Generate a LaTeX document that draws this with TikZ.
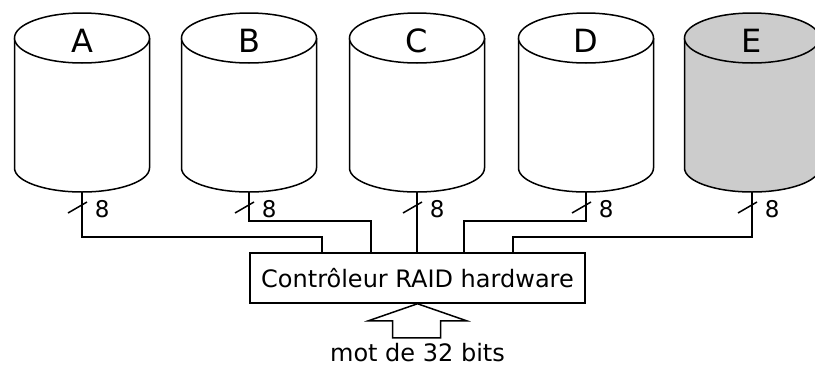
\documentclass[tikz,border=0pt]{standalone}
\usepackage{fontspec}
\setmainfont{DejaVu Sans}
\definecolor{diskgray}{RGB}{204,204,204}

\begin{document}
\begin{tikzpicture}[x=1pt,y=-1pt,line width=1.5pt,font=\fontsize{24}{28}\selectfont]
\useasboundingbox (0,0) rectangle (815,367);
% disks
\foreach \n/\cx/\col in {A/82/white,B/249/white,C/417/white,D/586/white,E/752/diskgray}{
  \filldraw[fill=\col] (\cx-67.5,38) -- (\cx-67.5,168) arc[start angle=180,end angle=0,x radius=67.5,y radius=24] -- (\cx+67.5,38);
  \filldraw[fill=\col] (\cx,38) ellipse[x radius=67.5,y radius=25];
  \node[font=\fontsize{32}{36}\selectfont] (lab\n) at (\cx,41) {\n};
  \coordinate (bot\n) at (\cx,192);
  \draw (\cx-14,213) -- (\cx+5,202);
  \node[anchor=west,inner sep=0pt,font=\fontsize{23}{26}\selectfont] (w\n) at (\cx+12,209.5) {8};
}
\node[draw,minimum width=335pt,minimum height=50pt,inner sep=0pt] (ctrl) at (417.5,278) {Contrôleur RAID hardware};
% buses
\foreach \n/\d/\s in {A/45/-95.5,B/29/-46.5,D/29/46.5,E/45/95.5}{
  \draw (bot\n) -- ++(0,\d) -| ([xshift=\s pt]ctrl.north);
}
\draw (botC) -- (botC |- ctrl.north);
\node (word) at (417.5,353) {mot de 32 bits};
\draw (ctrl.south) -- ++(-49,17) -- ++(24,0) -- ++(0,17) -- ++(48,0) -- ++(0,-17) -- ++(26,0) -- cycle;
\end{tikzpicture}
\end{document}
